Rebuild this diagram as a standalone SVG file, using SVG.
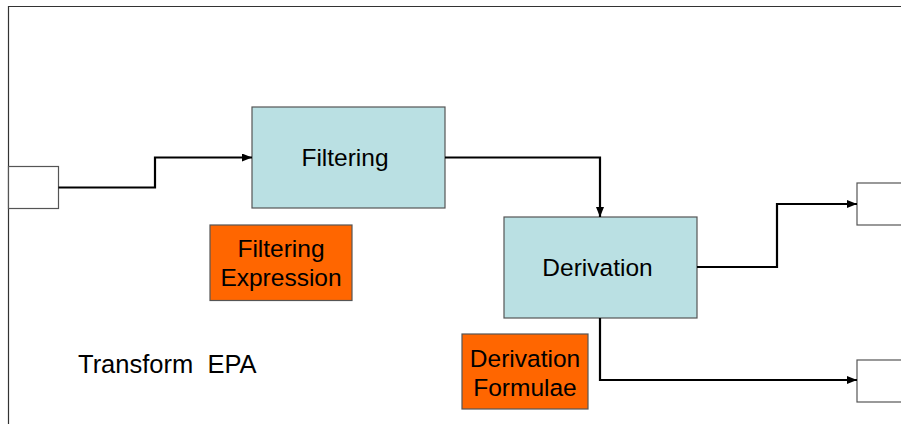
<svg xmlns="http://www.w3.org/2000/svg" width="901" height="424" viewBox="0 0 901 424">
  <defs>
    <marker id="arrow" markerWidth="10" markerHeight="8" refX="10" refY="4" orient="auto" markerUnits="userSpaceOnUse">
      <path d="M0,0 L10,4 L0,8 Z" fill="#000"/>
    </marker>
    <style>
      .frame { fill: none; stroke: #333; stroke-width: 1.2; }
      .port { fill: #fff; stroke: #555; stroke-width: 1.2; }
      .step { fill: #bae0e3; stroke: #555; stroke-width: 1.2; }
      .param { fill: #ff6600; stroke: #555; stroke-width: 1.2; }
      .label { font-family: "Liberation Sans", Arial, sans-serif; font-size: 24.5px; fill: #000; text-anchor: middle; }
      .conn { fill: none; stroke: #000; stroke-width: 2.2; marker-end: url(#arrow); }
    </style>
  </defs>
  <rect width="901" height="424" fill="#fff"/>

  <!-- EPA boundary -->
  <path class="frame" d="M8.5,424 V6.5 H901"/>

  <g id="input-port">
    <rect class="port" x="8.5" y="166.5" width="50" height="42"/>
  </g>
  <g id="filtering">
    <rect class="step" x="252" y="107" width="193" height="101"/>
    <text class="label" x="345" y="166">Filtering</text>
  </g>
  <g id="filtering-expression">
    <rect class="param" x="210" y="225" width="142" height="75.5"/>
    <text class="label" x="281" y="257">Filtering</text>
    <text class="label" x="281" y="286">Expression</text>
  </g>
  <g id="derivation">
    <rect class="step" x="504" y="217" width="193" height="101"/>
    <text class="label" x="597.5" y="276">Derivation</text>
  </g>
  <g id="derivation-formulae">
    <rect class="param" x="462" y="334" width="126" height="75"/>
    <text class="label" x="525" y="367">Derivation</text>
    <text class="label" x="525" y="396">Formulae</text>
  </g>
  <g id="output-port-1">
    <rect class="port" x="857" y="183" width="50" height="42"/>
  </g>
  <g id="output-port-2">
    <rect class="port" x="857" y="360" width="50" height="42"/>
  </g>
  <g id="epa-title">
    <text class="label" x="78" y="373" style="text-anchor:start;font-size:25.5px" xml:space="preserve">Transform  EPA</text>
  </g>

  <g id="connectors">
    <path class="conn" d="M58.5,187.5 H155 V157.5 H252"/>
    <path class="conn" d="M445,157.5 H600 V217"/>
    <path class="conn" d="M697,267 H777 V204 H857"/>
    <path class="conn" d="M600,318 V380 H857"/>
  </g>
</svg>
